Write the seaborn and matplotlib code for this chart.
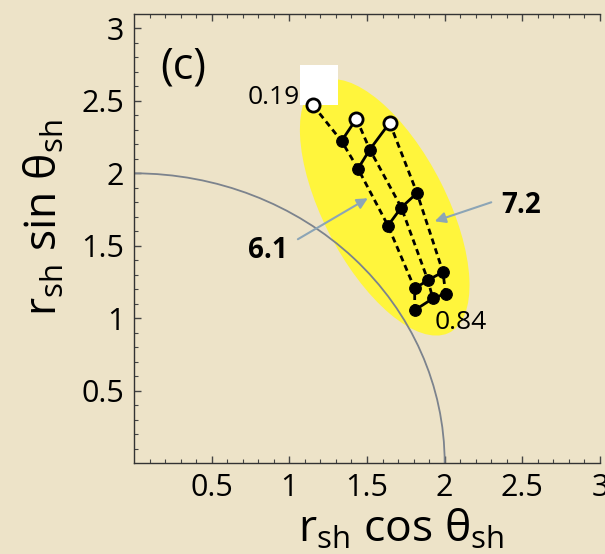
"""
Shock-radius trajectories, panel (c): r_sh sin(theta) vs r_sh cos(theta).
"""
import matplotlib
matplotlib.use("Agg")
import matplotlib.pyplot as plt
from matplotlib.patches import Ellipse, Rectangle, Arc
import numpy as np
import pandas as pd
import seaborn as sns

# ─── Data ────────────────────────────────────────────────────────────────────
# three dashed tracks (left = 6.1 ... right = 7.2), top point first
left_x = [1.153, 1.336, 1.442, 1.635, 1.807, 1.807]
left_y = [2.469, 2.223, 2.032, 1.639, 1.205, 1.055]
mid_x = [1.432, 1.518, 1.721, 1.892, 1.924]
mid_y = [2.377, 2.164, 1.764, 1.262, 1.136]
right_x = [1.646, 1.822, 1.989, 2.006]
right_y = [2.349, 1.864, 1.319, 1.170]

x_ticks = [0.5, 1, 1.5, 2, 2.5, 3]
x_tick_labels = ["0.5", "1", "1.5", "2", "2.5", "3"]
y_ticks = [0.5, 1, 1.5, 2, 2.5, 3]
y_tick_labels = ["0.5", "1", "1.5", "2", "2.5", "3"]

circle_radius = 2.0

BG = "#EDE3C8"
YELLOW = "#FFF53C"
ARROW = "#8CA5B6"
FONT = ["Open Sans", "DejaVu Sans"]

# ─── Long-form table ─────────────────────────────────────────────────────────
tracks = {"left": (left_x, left_y), "mid": (mid_x, mid_y), "right": (right_x, right_y)}
rows = []
for name, (xs, ys) in tracks.items():
    n = len(xs)
    for i, (x, y) in enumerate(zip(xs, ys)):
        # points sharing the same step from the bottom are joined by a solid line
        rows.append({"track": name, "x": x, "y": y, "idx": i, "step": n - 1 - i})
df = pd.DataFrame(rows)

# ─── Figure ──────────────────────────────────────────────────────────────────
sns.set_theme(style="ticks")
plt.rcParams["font.family"] = FONT
plt.rcParams["mathtext.fontset"] = "custom"
plt.rcParams["mathtext.rm"] = "Open Sans"
plt.rcParams["text.color"] = "black"

fig = plt.figure(figsize=(6.05, 5.54), dpi=100, facecolor=BG)
ax = fig.add_axes([134 / 605, 91 / 554, 466 / 605, 449 / 554])
ax.set_facecolor(BG)
ax.set_xlim(0, 3)
ax.set_ylim(0, 3.1)

# yellow region + white block
ax.add_patch(Ellipse((1.614, 1.765), width=0.80, height=1.92, angle=25.2,
                     facecolor=YELLOW, edgecolor="none", zorder=1))
ax.add_patch(Rectangle((1.067, 2.469), 0.245, 0.276, facecolor="white",
                       edgecolor="none", zorder=1.5))

# circle of radius 2
ax.add_patch(Arc((0, 0), 2 * circle_radius, 2 * circle_radius, theta1=0, theta2=90,
                 color="#7C838D", lw=1.3, zorder=2))

# dashed tracks
for name in tracks:
    sub = df[df["track"] == name]
    sns.lineplot(data=sub, x="x", y="y", sort=False, estimator=None, ax=ax,
                 color="black", lw=2.0, linestyle=(0, (2.2, 1.5)), zorder=3)

# solid connectors
for step, sub in df.groupby("step"):
    if len(sub) < 2:
        continue
    sub = sub.sort_values("x")
    sns.lineplot(data=sub, x="x", y="y", sort=False, estimator=None, ax=ax,
                 color="black", lw=2.0, zorder=3)

# markers: first point of each track is open
first = df[df["idx"] == 0]
rest = df[df["idx"] > 0]
sns.scatterplot(data=rest, x="x", y="y", ax=ax, color="black", s=70,
                edgecolor="black", linewidth=0.8, zorder=4)
sns.scatterplot(data=first, x="x", y="y", ax=ax, color="white", s=90,
                edgecolor="black", linewidth=2.0, zorder=4)

# annotations
ax.text(1.067, 2.524, "0.19", ha="right", va="center", fontsize=19, zorder=5)
ax.text(1.936, 0.972, "0.84", ha="left", va="center", fontsize=19, zorder=5)
ax.text(0.32, 2.73, "(c)", ha="center", va="center", fontsize=31)
ax.text(0.862, 1.469, "6.1", ha="center", va="center", fontsize=20, fontweight="bold")
ax.text(2.495, 1.779, "7.2", ha="center", va="center", fontsize=20, fontweight="bold")
arrow = dict(arrowstyle="-|>", color=ARROW, lw=1.5, mutation_scale=16, shrinkA=0, shrinkB=0)
ax.annotate("", xy=(1.505, 1.828), xytext=(1.055, 1.545), arrowprops=arrow, zorder=5)
ax.annotate("", xy=(1.936, 1.669), xytext=(2.30, 1.80), arrowprops=arrow, zorder=5)

# axes styling
ax.set_xticks(x_ticks)
ax.set_xticklabels(x_tick_labels)
ax.set_yticks(y_ticks)
ax.set_yticklabels(y_tick_labels)
ax.set_xticks(np.arange(0.1, 3.01, 0.1), minor=True)
ax.set_yticks(np.arange(0.1, 3.01, 0.1), minor=True)
ax.tick_params(which="both", direction="in", top=True, right=False,
               color="#444444", labelsize=22, pad=7, labelcolor="black")
ax.tick_params(which="major", length=5, width=1)
ax.tick_params(which="minor", length=3, width=0.8)
for side in ["left", "bottom", "top"]:
    ax.spines[side].set_color("#333333")
    ax.spines[side].set_linewidth(1.0)
ax.spines["right"].set_visible(False)

ax.set_xlabel(r"r$_\mathregular{sh}$ cos θ$_\mathregular{sh}$", fontsize=32,
              va="center", color="black")
ax.set_ylabel(r"r$_\mathregular{sh}$ sin θ$_\mathregular{sh}$", fontsize=32,
              va="center", color="black")
ax.xaxis.set_label_coords(0.573, -0.15)
ax.yaxis.set_label_coords(-0.19, 0.546)

fig.savefig("out.png", dpi=100, facecolor=BG)
